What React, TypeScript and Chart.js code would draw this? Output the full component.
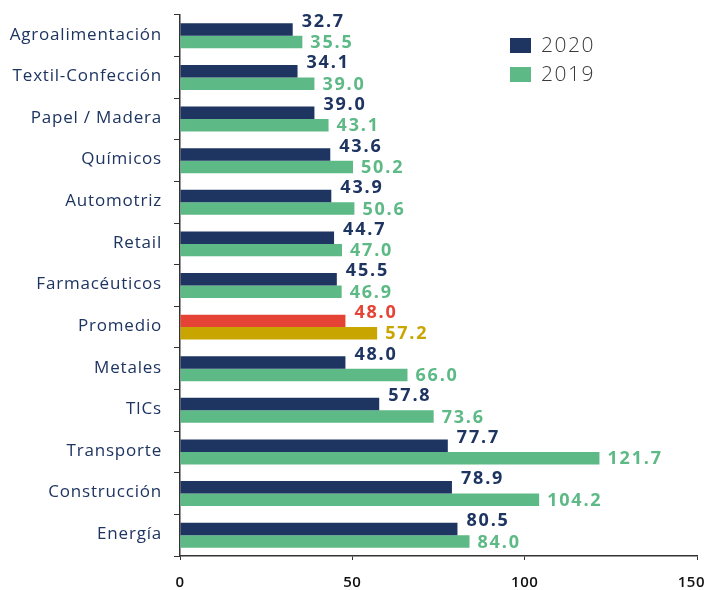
import React, { useEffect, useRef } from "react";
import { Chart, registerables } from "chart.js";

Chart.register(...registerables);

const categories = [
  "Agroalimentación",
  "Textil-Confección",
  "Papel / Madera",
  "Químicos",
  "Automotriz",
  "Retail",
  "Farmacéuticos",
  "Promedio",
  "Metales",
  "TICs",
  "Transporte",
  "Construcción",
  "Energía",
];
const values2020 = [32.7, 34.1, 39.0, 43.6, 43.9, 44.7, 45.5, 48.0, 48.0, 57.8, 77.7, 78.9, 80.5];
const values2019 = [35.5, 39.0, 43.1, 50.2, 50.6, 47.0, 46.9, 57.2, 66.0, 73.6, 121.7, 104.2, 84.0];
const xTicks = [0, 50, 100, 150];
const seriesLabels = ["2020", "2019"];
const highlightCategory = "Promedio";

const NAVY = "#1e3461";
const GREEN = "#5db985";
const RED = "#e54335";
const GOLD = "#c9a500";
const FONT = "'Open Sans', sans-serif";

const colorsFor = (base: string, hi: string) =>
  categories.map((c) => (c === highlightCategory ? hi : base));

const valueLabelPlugin = {
  id: "valueLabels",
  afterDatasetsDraw(chart: any) {
    const ctx = chart.ctx;
    ctx.save();
    ctx.font = `bold 18px ${FONT}`;
    (ctx as any).letterSpacing = "1.8px";
    ctx.textAlign = "left";
    ctx.textBaseline = "middle";
    chart.data.datasets.forEach((ds: any, di: number) => {
      const meta = chart.getDatasetMeta(di);
      meta.data.forEach((bar: any, i: number) => {
        const v = ds.data[i];
        const colors = ds.backgroundColor;
        ctx.fillStyle = Array.isArray(colors) ? colors[i] : colors;
        const dy = di === 0 ? -8 : 1;
        const dx = di === 0 ? 9 : 8;
        ctx.fillText(v.toFixed(1), bar.x + dx, bar.y + dy);
      });
    });
    ctx.restore();
  },
};

const axisLabelPlugin = {
  id: "axisLabels",
  afterDraw(chart: any) {
    const ctx = chart.ctx;
    const y = chart.scales.y;
    const x = chart.scales.x;
    ctx.save();
    ctx.font = `17px ${FONT}`;
    (ctx as any).letterSpacing = "0.8px";
    ctx.textAlign = "right";
    ctx.textBaseline = "middle";
    ctx.fillStyle = NAVY;
    categories.forEach((c, i) => {
      ctx.fillText(c, 162, y.getPixelForValue(i) - 1);
    });
    ctx.font = `600 15px ${FONT}`;
    (ctx as any).letterSpacing = "0.5px";
    ctx.textAlign = "center";
    ctx.fillStyle = "#111";
    xTicks.forEach((t) => {
      const label = String(t);
      const w = ctx.measureText(label).width;
      const cx = Math.min(x.getPixelForValue(t), chart.width - w / 2 - 2);
      ctx.fillText(label, cx, 583);
    });
    ctx.restore();
  },
};

const legendPlugin = {
  id: "customLegend",
  afterDraw(chart: any) {
    const ctx = chart.ctx;
    ctx.save();
    ctx.font = `300 21px ${FONT}`;
    (ctx as any).letterSpacing = "1.5px";
    ctx.textBaseline = "middle";
    ctx.textAlign = "left";
    const items = [
      { label: seriesLabels[0], color: NAVY },
      { label: seriesLabels[1], color: GREEN },
    ];
    items.forEach((it, i) => {
      const y = 45 + i * 29;
      ctx.fillStyle = it.color;
      ctx.fillRect(510, y - 7, 21, 15);
      ctx.fillStyle = "#3a3a3a";
      ctx.fillText(it.label, 541, y + 1);
    });
    ctx.restore();
  },
};

export default function App() {
  const ref = useRef<HTMLCanvasElement>(null);
  useEffect(() => {
    if (!ref.current) return;
    const chart = new Chart(ref.current, {
      type: "bar",
      data: {
        labels: categories,
        datasets: [
          {
            label: seriesLabels[0],
            data: values2020,
            backgroundColor: colorsFor(NAVY, RED),
            categoryPercentage: 0.6,
            barPercentage: 1,
          },
          {
            label: seriesLabels[1],
            data: values2019,
            backgroundColor: colorsFor(GREEN, GOLD),
            categoryPercentage: 0.6,
            barPercentage: 1,
          },
        ],
      },
      options: {
        indexAxis: "y",
        animation: false,
        responsive: false,
        maintainAspectRatio: false,
        layout: { padding: { top: 15, right: 10, left: 0, bottom: 0 } },
        plugins: {
          legend: { display: false },
          tooltip: { enabled: false },
        },
        scales: {
          x: {
            min: 0,
            max: 150,
            afterBuildTicks: (s: any) => {
              s.ticks = xTicks.map((v) => ({ value: v }));
            },
            ticks: { display: false },
            grid: {
              drawOnChartArea: false,
              drawTicks: true,
              tickLength: 4,
              color: "#333",
            },
            border: { display: true, color: "#333", width: 1.5 },
            afterFit: (s: any) => {
              s.height = 34;
            },
          },
          y: {
            ticks: { display: false },
            grid: {
              drawOnChartArea: false,
              drawTicks: true,
              tickLength: 6,
              color: "#333",
              offset: true,
            },
            border: { display: true, color: "#333", width: 1.5 },
            afterFit: (s: any) => {
              s.width = 180;
            },
          },
        },
      },
      plugins: [valueLabelPlugin, axisLabelPlugin, legendPlugin],
    });
    return () => chart.destroy();
  }, []);
  return (
    <div style={{ position: "fixed", left: 0, top: 0, width: 707, height: 590, background: "#fff" }}>
      <canvas ref={ref} width={707} height={590} style={{ width: 707, height: 590, display: "block" }} />
    </div>
  );
}
